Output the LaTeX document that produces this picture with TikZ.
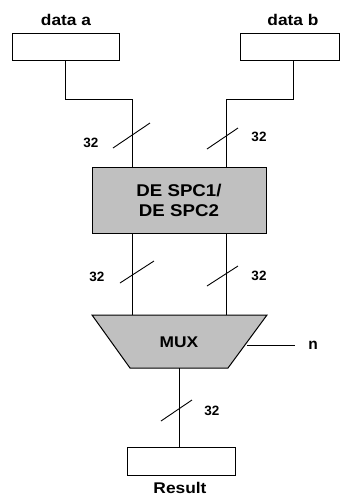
\documentclass[tikz,border=0pt]{standalone}
\usepackage{fontspec}
\setmainfont{Liberation Sans}
\definecolor{blockgray}{RGB}{192,192,192}
\tikzset{
  box/.style={draw, line width=1pt, fill=white, inner sep=0pt},
  gbox/.style={draw, line width=1pt, fill=blockgray, inner sep=0pt, align=center},
  wire/.style={line width=1pt},
  slash/.style={line width=0.9pt},
  lbl/.style={font=\bfseries\fontsize{15.5}{17}\selectfont, inner sep=0pt},
  num/.style={font=\bfseries\fontsize{13.5}{15}\selectfont, inner sep=0pt},
}
\begin{document}
\begin{tikzpicture}[x=1pt,y=-1pt]
\useasboundingbox (0,0) rectangle (340,496);
% input boxes
\node[box, minimum width=107pt, minimum height=27pt] (a) at (65.5,46.5) {};
\node[box, minimum width=99pt, minimum height=27pt] (b) at (289.5,46.5) {};
\node[lbl] (la) at (66,20) {\scalebox{1.12}[1]{data a}};
\node[lbl] (lb) at (293,20) {\scalebox{1.12}[1]{data b}};
% DESPC block
\node[gbox, minimum width=174pt, minimum height=66pt, font=\bfseries\fontsize{17}{20}\selectfont] (d) at (179,200.5) {\scalebox{1.1}[1]{DE SPC1/}\\\scalebox{1.1}[1]{DE SPC2}};
\coordinate (dtl) at (132,167.5);
\coordinate (dtr) at (226,167.5);
\coordinate (dbl) at (132,233.5);
\coordinate (dbr) at (226,233.5);
% MUX
\coordinate (m1) at (92,315);
\coordinate (m2) at (267,315);
\coordinate (m3) at (228,368);
\coordinate (m4) at (130,368);
\draw[line width=1pt, fill=blockgray] (m1) -- (m2) -- (m3) -- (m4) -- cycle;
\node[lbl] (mux) at (179,342) {\scalebox{1.12}[1]{MUX}};
\coordinate (mtl) at (132,315);
\coordinate (mtr) at (226,315);
\coordinate (mb) at (179,368);
\coordinate (msel) at (247,345);
\coordinate (nend) at (295,345);
\node[lbl] (n) at (313,345) {n};
% result
\node[box, minimum width=108pt, minimum height=28pt] (r) at (181,461) {};
\node[lbl] (lr) at (180,488) {\scalebox{1.12}[1]{Result}};
% wires
\coordinate (bs) at (293,60);
\draw[wire] (a.south) |- (132,99) -- (dtl);
\draw[wire] (bs) |- (226,99) -- (dtr);
\draw[wire] (dbl) -- (mtl);
\draw[wire] (dbr) -- (mtr);
\draw[wire] (mb) -- (r.north -| mb);
\draw[wire] (msel) -- (nend);
% slashes and widths
\draw[slash] (113,148) -- (150,123);
\node[num] at (91,143) {32};
\draw[slash] (207,149) -- (238,128);
\node[num] at (259,137) {32};
\draw[slash] (120,283) -- (154,261);
\node[num] at (97,277) {32};
\draw[slash] (207,286) -- (238,266);
\node[num] at (259,276) {32};
\draw[slash] (161,421) -- (192,400);
\node[num] at (212,411) {32};
\end{tikzpicture}
\end{document}
